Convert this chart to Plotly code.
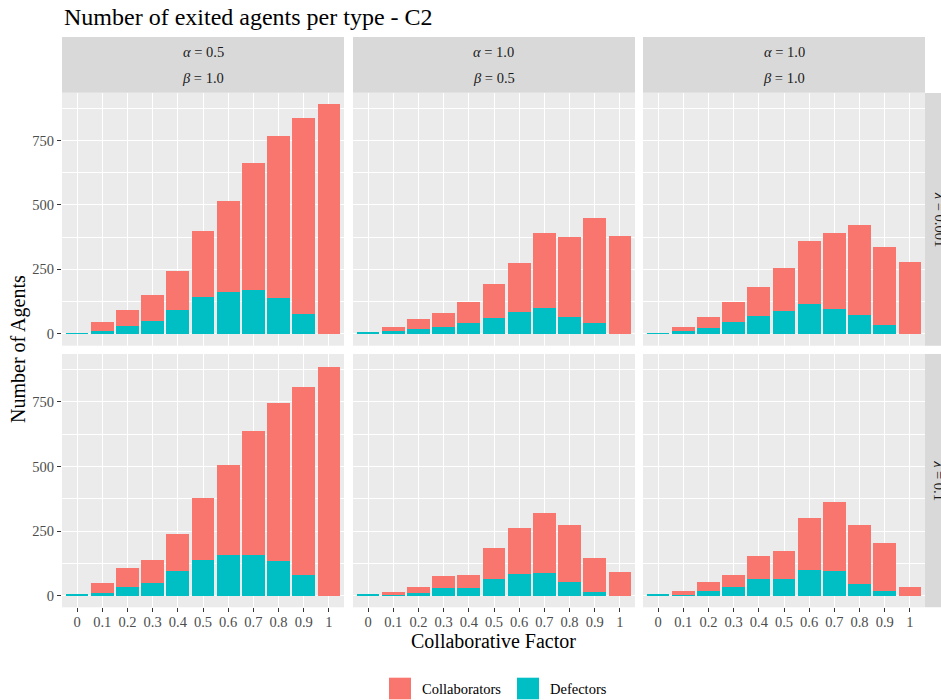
import plotly.graph_objects as go

W, H = 941, 700

# Collaborative factor categories (x axis)
collab_factor = ["0", "0.1", "0.2", "0.3", "0.4", "0.5", "0.6", "0.7", "0.8", "0.9", "1"]

# Facet labels
col_alpha = ["0.5", "1.0", "1.0"]
col_beta = ["1.0", "0.5", "1.0"]
row_lambda = ["0.001", "0.1"]

# Exited agents, lambda = 0.001
defectors_l1_a05_b10 = [3, 12, 31, 50, 93, 142, 163, 170, 139, 77, 0]
collaborators_l1_a05_b10 = [0, 35, 61, 100, 150, 256, 351, 491, 630, 762, 893]
defectors_l1_a10_b05 = [6, 10, 18, 26, 41, 61, 85, 101, 65, 41, 0]
collaborators_l1_a10_b05 = [0, 16, 39, 54, 82, 131, 189, 289, 309, 407, 378]
defectors_l1_a10_b10 = [3, 10, 23, 47, 68, 88, 116, 96, 72, 34, 0]
collaborators_l1_a10_b10 = [0, 16, 42, 76, 113, 166, 243, 294, 349, 302, 278]

# Exited agents, lambda = 0.1
defectors_l2_a05_b10 = [4, 12, 35, 50, 97, 139, 159, 159, 136, 79, 0]
collaborators_l2_a05_b10 = [0, 38, 73, 89, 143, 237, 348, 480, 611, 730, 883]
defectors_l2_a10_b05 = [4, 4, 12, 31, 31, 66, 85, 89, 54, 16, 0]
collaborators_l2_a10_b05 = [0, 12, 23, 46, 50, 120, 175, 229, 221, 131, 93]
defectors_l2_a10_b10 = [4, 4, 19, 35, 66, 66, 101, 97, 47, 19, 0]
collaborators_l2_a10_b10 = [0, 15, 35, 46, 89, 108, 201, 267, 228, 186, 35]

panels = [
    [(defectors_l1_a05_b10, collaborators_l1_a05_b10),
     (defectors_l1_a10_b05, collaborators_l1_a10_b05),
     (defectors_l1_a10_b10, collaborators_l1_a10_b10)],
    [(defectors_l2_a05_b10, collaborators_l2_a05_b10),
     (defectors_l2_a10_b05, collaborators_l2_a10_b05),
     (defectors_l2_a10_b10, collaborators_l2_a10_b10)],
]

COL_COLLAB = "#F8766D"
COL_DEFECT = "#00BFC4"
FONT = "Liberation Serif"
TICK_SIZE = 14.5

# panel geometry in pixels
x_px = [(62, 344), (353, 635), (643, 925)]
y_px = [(93, 345.7), (354, 607.3)]
y_ranges = [[-46, 934], [-45, 935]]


def px_x(v):
    return v / W


def px_y(v):
    return 1 - v / H


fig = go.Figure()
layout_axes = {}

for r in range(2):
    for c in range(3):
        idx = r * 3 + c + 1
        sfx = "" if idx == 1 else str(idx)
        defe, coll = panels[r][c]
        fig.add_trace(go.Bar(x=collab_factor, y=defe, name="Defectors",
                             marker=dict(color=COL_DEFECT, line=dict(width=0)),
                             width=0.9, showlegend=False,
                             xaxis="x" + sfx, yaxis="y" + sfx))
        fig.add_trace(go.Bar(x=collab_factor, y=coll, name="Collaborators",
                             marker=dict(color=COL_COLLAB, line=dict(width=0)),
                             width=0.9, showlegend=False,
                             xaxis="x" + sfx, yaxis="y" + sfx))
        bottom = r == 1
        left = c == 0
        layout_axes["xaxis" + sfx] = dict(
            domain=[px_x(x_px[c][0]), px_x(x_px[c][1])],
            anchor="y" + sfx, type="category",
            categoryorder="array", categoryarray=collab_factor,
            range=[-0.6, 10.6],
            showgrid=True, gridcolor="white", gridwidth=1.1,
            zeroline=False, showline=False,
            showticklabels=bottom,
            ticks="outside" if bottom else "", ticklen=4, tickwidth=1,
            tickcolor="#333333", ticklabelstandoff=-3,
            tickfont=dict(family=FONT, size=TICK_SIZE, color="#4D4D4D"),
            automargin=False, fixedrange=True,
        )
        layout_axes["yaxis" + sfx] = dict(
            domain=[px_y(y_px[r][1]), px_y(y_px[r][0])],
            anchor="x" + sfx,
            range=y_ranges[r], tick0=0, dtick=250,
            showgrid=True, gridcolor="white", gridwidth=1.1,
            minor=dict(tick0=0, dtick=125, showgrid=True,
                       gridcolor="white", gridwidth=0.55, ticks=""),
            zeroline=False, showline=False,
            showticklabels=left,
            ticks="outside" if left else "", ticklen=4, tickwidth=1,
            tickcolor="#333333",
            tickfont=dict(family=FONT, size=TICK_SIZE, color="#4D4D4D"),
            automargin=False, fixedrange=True,
        )

shapes = []
annotations = []

# column strips (alpha / beta)
for c in range(3):
    shapes.append(dict(type="rect", xref="paper", yref="paper",
                       x0=px_x(x_px[c][0]), x1=px_x(x_px[c][1]),
                       y0=px_y(92.7), y1=px_y(37),
                       fillcolor="#D9D9D9", line=dict(width=0), layer="below"))
    xc = px_x((x_px[c][0] + x_px[c][1]) / 2)
    annotations.append(dict(x=xc, y=px_y(51.5), xref="paper", yref="paper",
                            text="<i>α</i> = " + col_alpha[c], showarrow=False,
                            xanchor="center", yanchor="middle",
                            font=dict(family=FONT, size=TICK_SIZE, color="#1A1A1A")))
    annotations.append(dict(x=xc, y=px_y(78.5), xref="paper", yref="paper",
                            text="<i>β</i> = " + col_beta[c], showarrow=False,
                            xanchor="center", yanchor="middle",
                            font=dict(family=FONT, size=TICK_SIZE, color="#1A1A1A")))

# row strips (lambda)
for r in range(2):
    shapes.append(dict(type="rect", xref="paper", yref="paper",
                       x0=px_x(925), x1=px_x(956),
                       y0=px_y(y_px[r][1]), y1=px_y(y_px[r][0]),
                       fillcolor="#D9D9D9", line=dict(width=0), layer="below"))
    annotations.append(dict(x=px_x(939.5), y=px_y((y_px[r][0] + y_px[r][1]) / 2),
                            xref="paper", yref="paper",
                            text="<i>λ</i> = " + row_lambda[r], showarrow=False,
                            textangle=90, xanchor="center", yanchor="middle",
                            font=dict(family=FONT, size=TICK_SIZE, color="#1A1A1A")))

# title and axis titles
annotations.append(dict(x=px_x(62), y=px_y(17), xref="paper", yref="paper",
                        text="Number of exited agents per type - C2", showarrow=False,
                        xanchor="left", yanchor="middle",
                        font=dict(family=FONT, size=24, color="black")))
annotations.append(dict(x=px_x(493.5), y=px_y(641), xref="paper", yref="paper",
                        text="Collaborative Factor", showarrow=False,
                        xanchor="center", yanchor="middle",
                        font=dict(family=FONT, size=20, color="black")))
annotations.append(dict(x=px_x(18), y=px_y(349), xref="paper", yref="paper",
                        text="Number of Agents", showarrow=False, textangle=-90,
                        xanchor="center", yanchor="middle",
                        font=dict(family=FONT, size=20, color="black")))

# legend keys
legend_items = [("Collaborators", COL_COLLAB, 389), ("Defectors", COL_DEFECT, 517)]
for label, color, x0 in legend_items:
    shapes.append(dict(type="rect", xref="paper", yref="paper",
                       x0=px_x(x0), x1=px_x(x0 + 22),
                       y0=px_y(699.3), y1=px_y(677.7),
                       fillcolor=color, line=dict(width=0)))
    annotations.append(dict(x=px_x(x0 + 31), y=px_y(688.5), xref="paper", yref="paper",
                            text=label, showarrow=False,
                            xanchor="left", yanchor="middle",
                            font=dict(family=FONT, size=TICK_SIZE, color="black")))

fig.update_layout(
    width=W, height=H,
    margin=dict(l=0, r=0, t=0, b=0, pad=0),
    paper_bgcolor="white", plot_bgcolor="#EBEBEB",
    barmode="stack", bargap=0.1,
    showlegend=False,
    shapes=shapes, annotations=annotations,
    font=dict(family=FONT),
    **layout_axes,
)

fig.write_html("out.html", config={"displayModeBar": False})
